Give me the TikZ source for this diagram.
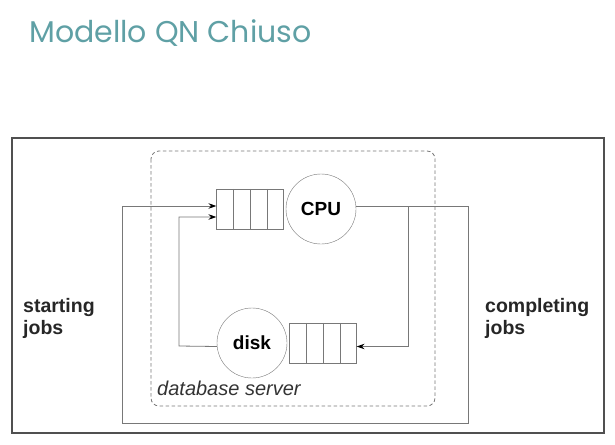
\documentclass[tikz,border=0pt]{standalone}
\usepackage{fontspec}
\setmainfont{Liberation Sans}
\newfontfamily\titlefont{Poppins}
\usetikzlibrary{positioning,calc,arrows.meta}

\definecolor{titleteal}{RGB}{95,160,165}
\definecolor{linegray}{RGB}{120,120,120}
\definecolor{framegray}{RGB}{80,80,80}

\tikzset{
    server/.style={circle, draw=linegray, minimum size=70pt, inner sep=0pt, font=\fontsize{19}{21}\selectfont\bfseries},
    queuebox/.style={rectangle, draw=linegray, minimum width=67pt, minimum height=40pt, inner sep=0pt},
    flow/.style={draw=linegray, line width=0.8pt},
    arrowflow/.style={flow, -{Stealth[length=8pt,width=5.5pt,color=black]}},
    label/.style={inner sep=0pt, anchor=base west, align=left, font=\fontsize{19.5}{21.5}\selectfont\bfseries, text=black!85}
}

\begin{document}
\begin{tikzpicture}[x=1pt, y=-1pt]
    \useasboundingbox (0,0) rectangle (615,444);

    % Title
    \node[inner sep=0pt, anchor=base west, text=titleteal, font=\fontsize{30}{33}\selectfont\titlefont] (title) at (29,42) {Modello QN Chiuso};

    % Frames
    \draw[framegray, line width=1.4pt] (12,138) rectangle (604,433);
    \draw[linegray, line width=0.8pt, dash pattern=on 3.5pt off 2.5pt, rounded corners=8pt] (151,151) rectangle (435,406);

    % Define the positions of the servers
    \node[server] (cpu) at (321,209) {CPU};
    \node[queuebox, left=2pt of cpu] (cpuq) {};
    \node[server] (disk) at (252,343) {disk};
    \node[queuebox, right=2pt of disk] (diskq) {};

    % Queue cells
    \foreach \q in {cpuq,diskq}
        \foreach \i in {1,2,3}
            \draw[linegray] ($(\q.north west)!\i/4!(\q.north east)$) -- ($(\q.south west)!\i/4!(\q.south east)$);

    % Corners of the connectors
    \coordinate (split) at (408,206);
    \coordinate (outR) at (468,423);
    \coordinate (outL) at (122,423);
    \coordinate (back) at (179,346);

    % Draw the connectors
    \draw[arrowflow] ([yshift=3pt]cpu.east) -| (outR) -- (outL) |- ([yshift=3pt]cpuq.west);
    \draw[arrowflow] (split) |- ([yshift=-3.5pt]diskq.east);
    \draw[arrowflow] ([yshift=-3.5pt]disk.west) -- (back) |- ([yshift=-8pt]cpuq.west);

    % Draw the labels (base is the last line)
    \node[label] (start) at (23,334) {starting\\jobs};
    \node[label] (compl) at (485,334) {completing\\jobs};
    \node[inner sep=0pt, anchor=base west, font=\fontsize{20}{22}\selectfont\itshape, text=black!80] (dbs) at (157,395) {database server};
\end{tikzpicture}
\end{document}
